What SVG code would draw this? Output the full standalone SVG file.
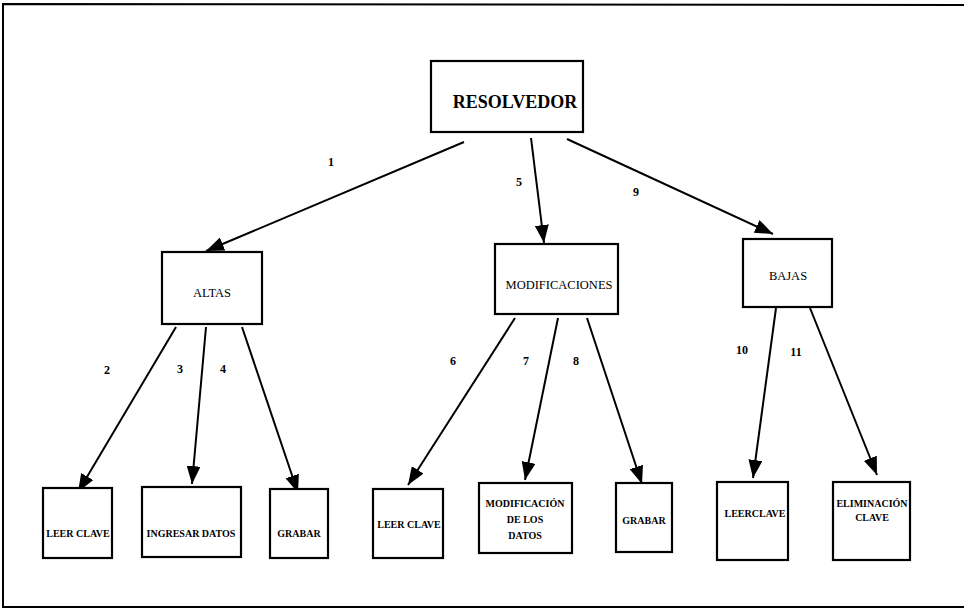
<svg xmlns="http://www.w3.org/2000/svg" width="964" height="611" viewBox="0 0 964 611">
<defs>
<style>
.box{fill:#fff;stroke:#000;stroke-width:2.2}
.t{font-family:"Liberation Serif","Times New Roman",serif;fill:#000;text-anchor:middle}
.top{font-size:18px;font-weight:bold}
.mid{font-size:12.5px}
.small{font-size:10px;font-weight:bold}
.num{font-family:"Liberation Serif","Times New Roman",serif;font-size:12px;font-weight:bold;fill:#000;text-anchor:middle}
.edge{stroke:#000;stroke-width:2;fill:none;marker-end:url(#ah)}
.frame{stroke:#000;stroke-width:2;fill:none}
</style>
<marker id="ah" viewBox="0 0 18 14" markerWidth="18" markerHeight="14" refX="18" refY="7" orient="auto" markerUnits="userSpaceOnUse">
<path d="M0,0 L18,7 L0,14 z" fill="#000"/>
</marker>
</defs>
<rect width="964" height="611" fill="#fff"/>
<path class="frame" d="M964,5 L3,4 L3,607 L964,607"/>

<g id="connectors">
<line class="edge" x1="464" y1="142" x2="206" y2="251"/>
<line class="edge" x1="531" y1="138" x2="544" y2="243"/>
<line class="edge" x1="567" y1="139" x2="773" y2="234"/>
<line class="edge" x1="176" y1="327" x2="78" y2="492"/>
<line class="edge" x1="206" y1="327" x2="192" y2="484"/>
<line class="edge" x1="242" y1="327" x2="298" y2="493"/>
<line class="edge" x1="515" y1="318" x2="408" y2="485"/>
<line class="edge" x1="558" y1="318" x2="525" y2="480"/>
<line class="edge" x1="587" y1="318" x2="642" y2="484"/>
<line class="edge" x1="776" y1="308" x2="753" y2="478"/>
<line class="edge" x1="810" y1="308" x2="877" y2="475"/>
<text class="num" x="331" y="166">1</text>
<text class="num" x="519" y="186">5</text>
<text class="num" x="636" y="196">9</text>
<text class="num" x="107" y="374">2</text>
<text class="num" x="180" y="373">3</text>
<text class="num" x="223" y="373">4</text>
<text class="num" x="453" y="365">6</text>
<text class="num" x="526" y="365">7</text>
<text class="num" x="576" y="365">8</text>
<text class="num" x="742" y="354">10</text>
<text class="num" x="796" y="356">11</text>
</g>

<g id="resolvedor">
<rect class="box" x="431" y="61" width="152" height="71"/>
<text class="t top" x="515" y="108">RESOLVEDOR</text>
</g>
<g id="altas">
<rect class="box" x="162" y="252" width="100" height="72"/>
<text class="t mid" x="212" y="297">ALTAS</text>
</g>
<g id="modificaciones">
<rect class="box" x="495" y="244" width="123" height="70"/>
<text class="t mid" x="559" y="289">MODIFICACIONES</text>
</g>
<g id="bajas">
<rect class="box" x="743" y="239" width="89" height="68"/>
<text class="t mid" x="788" y="280">BAJAS</text>
</g>
<g id="leer-clave-1">
<rect class="box" x="43" y="488" width="69" height="70"/>
<text class="t small" x="78" y="537">LEER CLAVE</text>
</g>
<g id="ingresar-datos">
<rect class="box" x="142" y="487" width="99" height="70"/>
<text class="t small" x="191" y="537">INGRESAR DATOS</text>
</g>
<g id="grabar-1">
<rect class="box" x="270" y="489" width="58" height="69"/>
<text class="t small" x="299" y="537">GRABAR</text>
</g>
<g id="leer-clave-2">
<rect class="box" x="373" y="489" width="70" height="69"/>
<text class="t small" x="409" y="528">LEER CLAVE</text>
</g>
<g id="modificacion-datos">
<rect class="box" x="479" y="483" width="93" height="70"/>
<text class="t small" x="525" y="507">MODIFICACIÓN</text>
<text class="t small" x="525" y="523">DE LOS</text>
<text class="t small" x="525" y="539">DATOS</text>
</g>
<g id="grabar-2">
<rect class="box" x="616" y="483" width="56" height="69"/>
<text class="t small" x="644" y="524">GRABAR</text>
</g>
<g id="leerclave-3">
<rect class="box" x="717" y="482" width="71" height="78"/>
<text class="t small" x="755" y="517">LEERCLAVE</text>
</g>
<g id="eliminacion-clave">
<rect class="box" x="833" y="482" width="77" height="78"/>
<text class="t small" x="872" y="507">ELIMINACIÓN</text>
<text class="t small" x="872" y="521">CLAVE</text>
</g>
</svg>
